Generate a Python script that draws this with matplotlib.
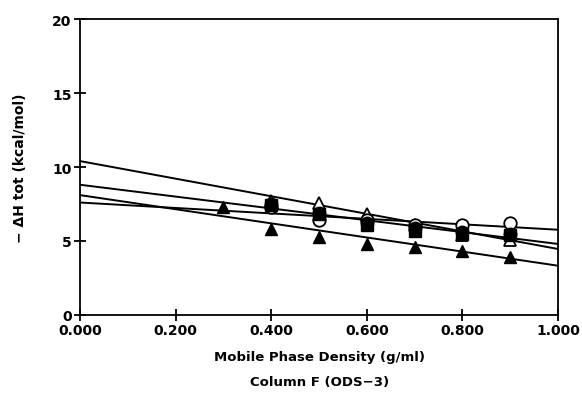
import matplotlib.pyplot as plt

# densidade da fase movel
x_tri = [0.3, 0.4, 0.5, 0.6, 0.7, 0.8, 0.9]
x_pts = [0.4, 0.5, 0.6, 0.7, 0.8, 0.9]

filled_tri = [7.3, 5.8, 5.3, 4.8, 4.6, 4.3, 3.9]
open_tri = [7.7, 7.6, 6.8, 6.1, 5.4, 5.1]
filled_circle = [7.5, 6.9, 6.2, 5.9, 5.6, 5.5]
filled_square = [7.4, 6.8, 6.1, 5.7, 5.5, 5.4]
open_circle = [7.3, 6.4, 6.4, 6.1, 6.1, 6.2]

# retas ajustadas: valor em x=0 e em x=1
fit_x = [0.0, 1.0]
fit_start = [10.4, 8.8, 8.1, 7.6]
fit_end = [4.46, 4.8, 3.33, 5.76]

xticks = [0.0, 0.2, 0.4, 0.6, 0.8, 1.0]
xticklabels = ["0.000", "0.200", "0.400", "0.600", "0.800", "1.000"]
yticks = [0, 5, 10, 15, 20]

plt.rcParams['font.family'] = ['DejaVu Sans']
plt.rcParams['font.weight'] = 'bold'

fig = plt.figure(figsize=(5.82, 4.06), dpi=100)
ax = fig.add_axes([0.1375, 0.2217, 0.8213, 0.729])

for a, b in zip(fit_start, fit_end):
    ax.plot(fit_x, [a, b], 'k-', lw=1.4, zorder=2)

ms = 9
ax.plot(x_pts, open_tri, '^', ms=ms, mfc='white', mec='k', mew=1.3, ls='none', zorder=3)
ax.plot(x_pts, open_circle, 'o', ms=ms, mfc='white', mec='k', mew=1.3, ls='none', zorder=3)
ax.plot(x_pts, filled_square, 's', ms=ms - 1, color='k', ls='none', zorder=4)
ax.plot(x_pts, filled_circle, 'o', ms=ms, color='k', ls='none', zorder=4)
ax.plot(x_tri, filled_tri, '^', ms=ms, color='k', ls='none', zorder=4)

ax.set_xlim(0, 1)
ax.set_ylim(0, 20)
ax.set_xticks(xticks)
ax.set_xticklabels(xticklabels)
ax.set_yticks(yticks)
ax.tick_params(direction='inout', length=8, width=1.3, labelsize=10, pad=2)
for s in ax.spines.values():
    s.set_linewidth(1.3)

ax.set_ylabel("\u2212 \u0394H tot (kcal/mol)", fontsize=10, fontweight='bold', labelpad=18)
fig.text(0.5485, 0.12, "Mobile Phase Density (g/ml)", ha='center', va='center',
         fontsize=9.5, fontweight='bold')
fig.text(0.5485, 0.058, "Column F (ODS\u22123)", ha='center', va='center',
         fontsize=9.5, fontweight='bold')

plt.savefig("out.png")
